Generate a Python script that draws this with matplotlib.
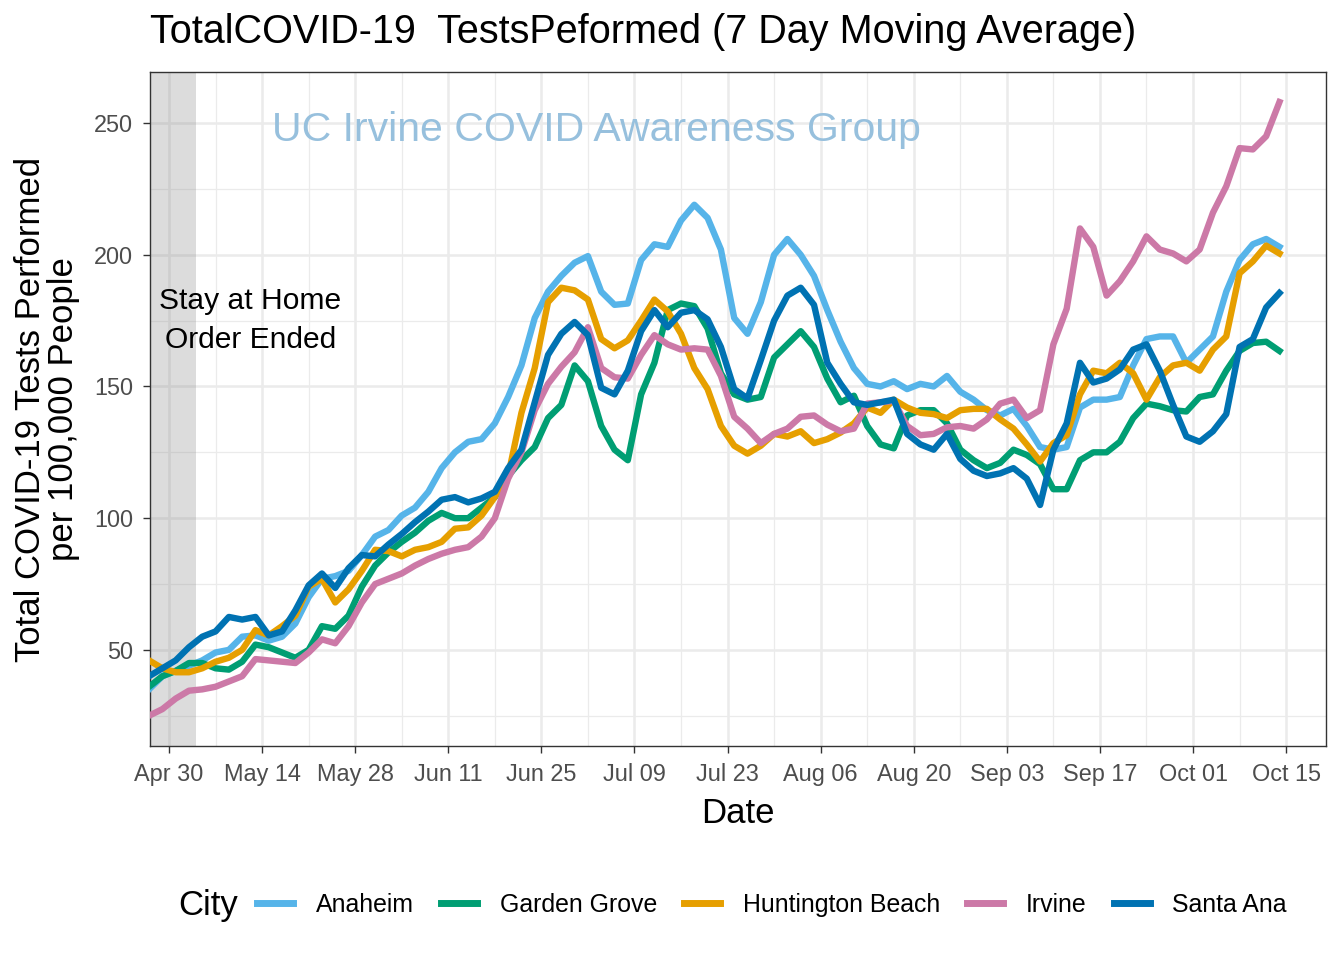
import matplotlib
matplotlib.use('Agg')
import matplotlib.pyplot as plt
import matplotlib.dates as mdates
from matplotlib.lines import Line2D
import pandas as pd
import datetime as dt

plt.rcParams['font.family'] = ['Liberation Sans', 'DejaVu Sans']

# sampled every 2 days, Apr 27 -> Oct 14 2020
dates = pd.date_range('2020-04-27', periods=86, freq='2D')

anaheim = [35, 40, 42, 44, 46, 49, 50, 55, 55.5, 53.5,
           55, 60, 70, 77, 78, 80, 86, 93, 95.5, 101,
           104, 110, 119, 125, 129, 130, 136, 146, 158, 176,
           186, 192, 197, 199.5, 186, 181, 181.5, 198, 204, 203,
           213, 219, 214, 202, 176, 170, 182, 200, 206, 200,
           192, 179, 167, 157, 151, 150, 152, 149, 151, 150,
           154, 148, 145, 141, 139, 141.5, 135, 127, 126, 127,
           142, 145, 145, 146, 158, 168, 169, 169, 159, 164,
           169, 186, 198, 204, 206, 203]

garden_grove = [36, 40, 42, 45, 45, 43, 42.5, 45.5, 52, 51,
                49, 47, 50, 59, 58, 63, 74, 82, 87, 91,
                94.5, 99, 102, 100, 100, 104, 108, 116, 122, 127,
                138, 143, 158, 152, 135, 126, 122, 147, 159, 179,
                181.5, 180.5, 172, 155, 147, 145, 146, 161, 166, 171,
                165, 153, 144, 146.5, 135, 128, 126.5, 139, 141, 141,
                136, 126, 122, 119, 121, 126, 124, 120.5, 111, 111,
                122, 125, 125, 129, 138, 143.5, 142.5, 141, 140.5, 146,
                147, 156, 163.5, 166.5, 167, 163.5]

huntington_beach = [46, 43, 41.5, 41.5, 43, 45.5, 47, 50, 57.5, 55.5,
                    59, 63, 74, 77, 68, 73, 80, 88, 87.5, 85.5,
                    88, 89, 91, 96, 96.5, 101, 108, 116, 140, 157,
                    182, 187.5, 186.5, 183, 168, 164.5, 167.5, 175, 183, 178.5,
                    170, 157, 149, 135, 127.5, 124.5, 127.5, 132, 131, 133,
                    128.5, 130, 132.5, 136, 142, 140, 145, 142, 140, 139.5,
                    138, 141, 141.5, 141.5, 137.5, 134, 128, 121.5, 128.5, 131.5,
                    147, 156, 155, 159, 155, 145, 153.5, 158, 159, 156,
                    164, 169, 193, 197.5, 203.5, 200.5]

irvine = [25, 27.5, 31.5, 34.5, 35, 36, 38, 40, 46.5, 46,
          45.5, 45, 49, 54, 52.5, 59, 68, 75, 77, 79,
          82, 84.5, 86.5, 88, 89, 93, 100, 115, 125, 141,
          151, 157.5, 163, 172.5, 157, 153.5, 153, 162, 169.5, 166,
          164, 164.5, 164, 154, 138.5, 134, 128.5, 132, 134, 138.5,
          139, 135.5, 133, 134, 143.5, 144, 144.5, 135, 131.5, 132,
          134.5, 135, 134, 137.5, 143.5, 145, 138, 141, 166, 179.5,
          210, 203, 184.5, 190, 197.5, 207, 202, 200.5, 197.5, 202,
          216, 226, 240.5, 240, 245, 258]

santa_ana = [40, 43, 46, 51, 55, 57, 62.5, 61.5, 62.5, 55.5,
             57, 65, 74.5, 79, 73.5, 81, 86, 85.5, 90, 94,
             98.5, 102.5, 107, 108, 106, 107.5, 110, 119, 126, 144,
             162, 170, 174.5, 169.5, 149.5, 147, 156, 171, 179, 172.5,
             178, 179, 175.5, 165, 149, 145.5, 160, 175, 184.5, 187.5,
             181, 159, 151, 144, 143, 144, 145, 132, 128, 126,
             132, 122.5, 118, 116, 117, 119, 115, 105, 126, 136,
             159, 151.5, 153, 156.5, 164, 166, 156, 143, 131, 129,
             133, 139.5, 165, 168, 180, 185.5]

cities = ['Anaheim', 'Garden Grove', 'Huntington Beach', 'Irvine', 'Santa Ana']
series = [anaheim, garden_grove, huntington_beach, irvine, santa_ana]
colors = ['#56B4E9', '#009E73', '#E69F00', '#CC79A7', '#0072B2']

fig = plt.figure(figsize=(13.44, 9.6), dpi=100)
ax = fig.add_axes([150 / 1344, 214 / 960, 1176 / 1344, 674 / 960])

x0 = mdates.date2num(dt.datetime(2020, 4, 27)) + 0.14
x1 = mdates.date2num(dt.datetime(2020, 10, 21))

# stay at home shading
ax.axvspan(x0, mdates.date2num(dt.datetime(2020, 5, 4)), color='grey', alpha=0.27, lw=0, zorder=1.5)

for name, vals, c in zip(cities, series, colors):
    ax.plot(dates, vals, color=c, lw=4.6, label=name, zorder=3)

ax.text(mdates.date2num(dt.datetime(2020, 5, 12, 6)), 175, 'Stay at Home\nOrder Ended',
        ha='center', va='center', fontsize=21.6, linespacing=1.5, zorder=4)
ax.text(mdates.date2num(dt.datetime(2020, 7, 3, 5)), 247.3, 'UC Irvine COVID Awareness Group',
        ha='center', va='center', fontsize=29.5, color='#97C0DD', zorder=4)

major_ticks = pd.date_range('2020-04-30', '2020-10-15', freq='14D')
minor_ticks = pd.date_range('2020-04-23', '2020-10-22', freq='14D')
ax.set_xticks(major_ticks)
ax.set_xticks(minor_ticks, minor=True)
ax.xaxis.set_major_formatter(mdates.DateFormatter('%b %d'))
ax.set_yticks([50, 100, 150, 200, 250])
ax.set_yticks([25, 75, 125, 175, 225], minor=True)
ax.set_xlim(x0, x1)
ax.set_ylim(13.5, 269.4)

ax.grid(which='major', color='#EBEBEB', lw=1.8, zorder=0)
ax.grid(which='minor', color='#EBEBEB', lw=0.9, zorder=0)
ax.set_axisbelow(True)
for s in ax.spines.values():
    s.set_color('#333333')
    s.set_linewidth(1.0)
ax.tick_params(which='major', length=5, width=1.0, color='#333333',
               labelsize=16.9, labelcolor='#4D4D4D', pad=7)
ax.tick_params(which='minor', length=0)

ax.set_xlabel('Date', fontsize=25, labelpad=8)
ax.set_ylabel('Total COVID-19 Tests Performed\nper 100,000 People', fontsize=25, labelpad=10,
              linespacing=1.0)

fig.text(150 / 1344, 1 - 32 / 960, 'TotalCOVID-19  TestsPeformed (7 Day Moving Average)',
         ha='left', va='center', fontsize=28.5)

# legend at bottom
handles = [Line2D([0], [0], color=c, lw=5) for c in colors]
fig.text(178 / 1344, 1 - 905 / 960, 'City', ha='left', va='center', fontsize=25)
fig.legend(handles, cities, ncol=5, loc='center', bbox_to_anchor=(772 / 1344, 1 - 905 / 960),
           frameon=False, fontsize=17.9, handlelength=1.45, handletextpad=0.9,
           columnspacing=1.1)

fig.savefig('out.png', dpi=100)
